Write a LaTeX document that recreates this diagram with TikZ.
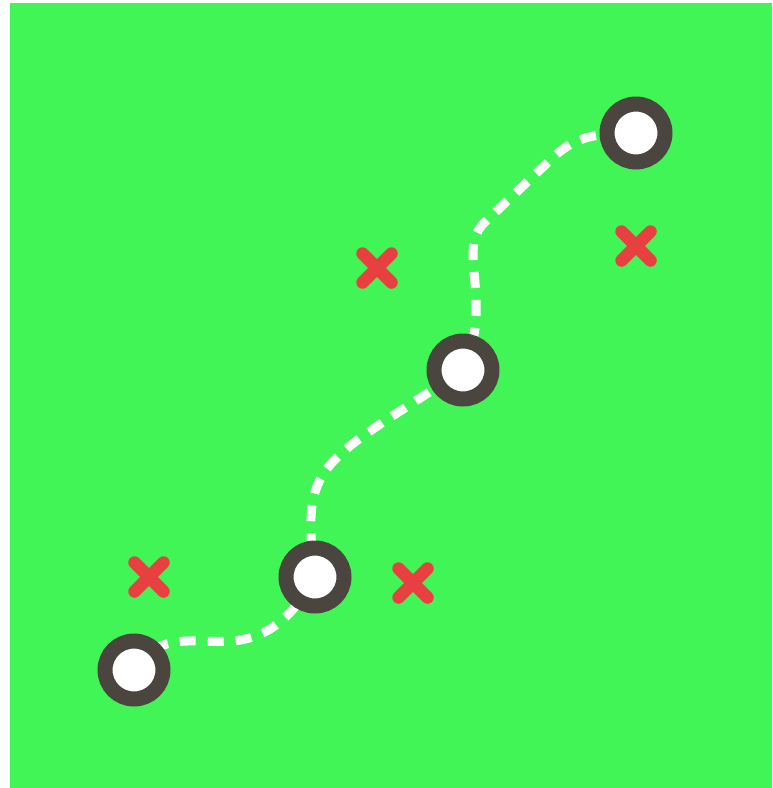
\documentclass[tikz,border=0pt]{standalone}
\usepackage{tikz}
\usetikzlibrary{shapes.misc}
\definecolor{field}{RGB}{66,245,86}
\definecolor{ringgray}{RGB}{74,69,63}
\definecolor{missred}{RGB}{232,64,64}
\begin{document}
\begin{tikzpicture}[x=0.02cm,y=-0.02cm,
stop/.style={circle,draw=ringgray,fill=white,line width=0.3cm,minimum size=1.16cm,inner sep=0pt},
miss/.style={cross out,draw=missred,line width=0.25cm,line cap=round,minimum size=0.58cm,inner sep=0pt,outer sep=0pt},
trail/.style={draw=white,line width=0.18cm,dash pattern=on 0.32cm off 0.24cm}]
\useasboundingbox (0,0) rectangle (772,788);
\fill[field] (10,3) rectangle (772,788);
\coordinate (a) at (134,670);\coordinate (b) at (315,577);
\coordinate (c) at (463,370);\coordinate (d) at (636,133);
\draw[trail] (a) .. controls (180,600) and (250,695) .. (b);
\draw[trail] (b) .. controls (300,460) and (320,465) .. (c);
\draw[trail] (c) .. controls (495,300) and (455,250) .. (485,222) -- (545,165) .. controls (570,140) and (585,133) .. (d);
\node[stop] (start) at (a) {};
\node[stop] (second) at (b) {};
\node[stop] (third) at (c) {};
\node[stop] (goal) at (d) {};
\node[miss] (missA) at (149,577) {};
\node[miss] (missB) at (413,583) {};
\node[miss] (missC) at (377,268) {};
\node[miss] (missD) at (636,246) {};
\end{tikzpicture}
\end{document}
